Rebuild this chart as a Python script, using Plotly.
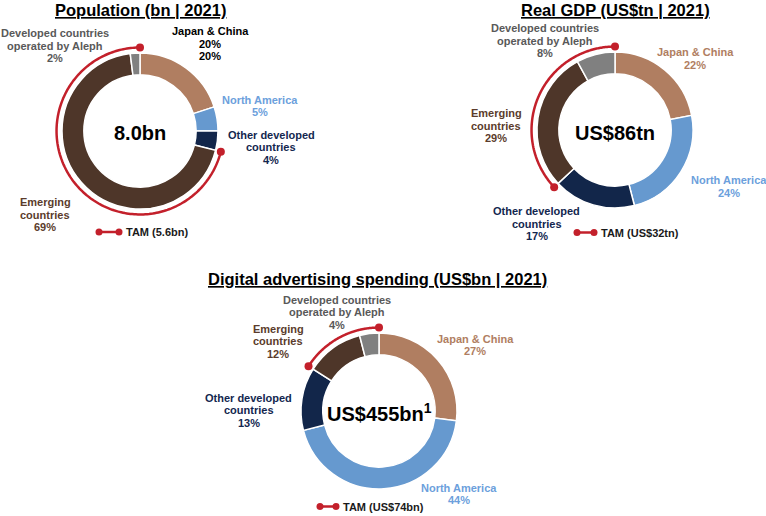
import numpy as np
import plotly.graph_objects as go

W, H = 766, 516
FONT = "Liberation Sans, Arial, sans-serif"

# ---------------- data ----------------
segments = ["Japan & China", "North America", "Other developed countries",
            "Emerging countries", "Developed countries operated by Aleph"]
segment_lines = [["Japan & China"], ["North America"], ["Other developed", "countries"],
                 ["Emerging", "countries"], ["Developed countries", "operated by Aleph"]]
slice_colors = ["#B07E61", "#6699CF", "#12264A", "#4E3629", "#808080"]
label_colors = ["#B07E61", "#6CA0DC", "#13274F", "#5B3C2C", "#595959"]

pop_values = [20, 5, 4, 69, 2]
gdp_values = [22, 24, 17, 29, 8]
ad_values = [27, 44, 13, 12, 4]

pop_pct_text = [["20%", "20%"], ["5%"], ["4%"], ["69%"], ["2%"]]
gdp_pct_text = [["22%"], ["24%"], ["17%"], ["29%"], ["8%"]]
ad_pct_text = [["27%"], ["44%"], ["13%"], ["12%"], ["4%"]]

titles = ["Population (bn | 2021)", "Real GDP (US$tn | 2021)",
          "Digital advertising spending (US$bn | 2021)"]
totals = ["8.0bn", "US$86tn", "US$455bn<sup>1</sup>"]
tam_labels = ["TAM (5.6bn)", "TAM (US$32tn)", "TAM (US$74bn)"]
tam_segments = ["Emerging countries", "Developed countries operated by Aleph"]

# ---------------- layout config (pixels) ----------------
R_PX = 78
RMAX = 1.2
HOLE = 0.72
ARC_R = 1.07
charts = [
    dict(values=pop_values, pct=pop_pct_text, center=(140, 131), title=(140, 10),
         total_y=133, tam=(99, 119, 232),
         labels=[(210, 31), (260, 99.5), (271, 134.5), (45, 202), (55, 33)],
         label_override={0: "#000000"}),
    dict(values=gdp_values, pct=gdp_pct_text, center=(615, 130), title=(615, 10),
         total_y=133, tam=(577, 594, 232.5),
         labels=[(695, 52), (728.5, 180), (536.5, 211), (496, 113), (545, 28.5)],
         label_override={}),
    dict(values=ad_values, pct=ad_pct_text, center=(379, 411), title=(377, 279),
         total_y=412, tam=(320, 336, 506.5),
         labels=[(475, 338.5), (458.5, 487.5), (248.5, 397.5), (278, 328.5), (337, 299.5)],
         label_override={}),
]
LINE_H = 12.5
RED = "#C3202B"


def px(x):
    return x / W


def py(y):
    return 1 - y / H


fig = go.Figure()
annotations = []
shapes = []
layout_polars = {}

for i, ch in enumerate(charts):
    pname = "polar" if i == 0 else f"polar{i + 1}"
    vals = np.array(ch["values"], dtype=float)
    frac = vals / vals.sum()
    starts = np.concatenate([[0], np.cumsum(frac)[:-1]]) * 360
    widths = frac * 360
    mids = starts + widths / 2

    fig.add_trace(go.Barpolar(
        theta=mids, width=widths, r=[1 - HOLE] * len(vals), base=[HOLE] * len(vals),
        marker=dict(color=slice_colors, line=dict(color="white", width=1.5)),
        subplot=pname, hoverinfo="skip", showlegend=False))

    # TAM arc over the TAM segments
    idx = [segments.index(s) for s in tam_segments]
    a0 = starts[min(idx)]
    a1 = starts[max(idx)] + widths[max(idx)]
    th = np.linspace(a0, a1, 200)
    fig.add_trace(go.Scatterpolar(
        theta=th, r=[ARC_R] * len(th), mode="lines",
        line=dict(color=RED, width=2.5), subplot=pname,
        hoverinfo="skip", showlegend=False))
    fig.add_trace(go.Scatterpolar(
        theta=[a0, a1], r=[ARC_R, ARC_R], mode="markers",
        marker=dict(color=RED, size=8), subplot=pname,
        hoverinfo="skip", showlegend=False))

    cx, cy = ch["center"]
    h = R_PX * RMAX
    layout_polars[pname] = dict(
        domain=dict(x=[px(cx - h), px(cx + h)], y=[py(cy + h), py(cy - h)]),
        bgcolor="rgba(0,0,0,0)", bargap=0,
        radialaxis=dict(visible=False, range=[0, RMAX]),
        angularaxis=dict(visible=False, direction="clockwise", rotation=90),
    )

    # title
    tx, ty = ch["title"]
    annotations.append(dict(
        x=px(tx), y=py(ty), xref="paper", yref="paper", showarrow=False,
        text=f"<u>{titles[i]}</u>", xanchor="center", yanchor="middle",
        font=dict(family=FONT, size=16.5, color="#000000", weight="bold")))

    # total in centre
    annotations.append(dict(
        x=px(cx), y=py(ch["total_y"]), xref="paper", yref="paper", showarrow=False,
        text=totals[i], xanchor="center", yanchor="middle",
        font=dict(family=FONT, size=20, color="#000000", weight="bold")))

    # segment labels
    for k, (lx, ly) in enumerate(ch["labels"]):
        lines = segment_lines[k] + ch["pct"][k]
        col = ch["label_override"].get(k, label_colors[k])
        for j, line in enumerate(lines):
            annotations.append(dict(
                x=px(lx), y=py(ly + j * LINE_H), xref="paper", yref="paper",
                showarrow=False, text=line, xanchor="center", yanchor="middle",
                font=dict(family=FONT, size=11, color=col, weight="bold")))

    # TAM legend
    x0, x1, yy = ch["tam"]
    shapes.append(dict(type="line", xref="paper", yref="paper",
                       x0=px(x0), x1=px(x1), y0=py(yy), y1=py(yy),
                       line=dict(color=RED, width=2.5)))
    for xc in (x0, x1):
        shapes.append(dict(type="circle", xref="paper", yref="paper",
                           x0=px(xc - 3.5), x1=px(xc + 3.5),
                           y0=py(yy + 3.5), y1=py(yy - 3.5),
                           fillcolor=RED, line=dict(color=RED, width=0)))
    annotations.append(dict(
        x=px(x1 + 5), y=py(yy), xref="paper", yref="paper", showarrow=False,
        text=tam_labels[i], xanchor="left", yanchor="middle",
        font=dict(family=FONT, size=11, color="#1A1A1A", weight="bold")))

fig.update_layout(
    width=W, height=H, margin=dict(l=0, r=0, t=0, b=0),
    paper_bgcolor="white", plot_bgcolor="white",
    annotations=annotations, shapes=shapes, showlegend=False,
    hovermode=False,
    **layout_polars,
)

fig.write_html("out.html", config={"displayModeBar": False},
               post_script="document.body.style.margin='0';document.body.style.overflow='hidden';")
